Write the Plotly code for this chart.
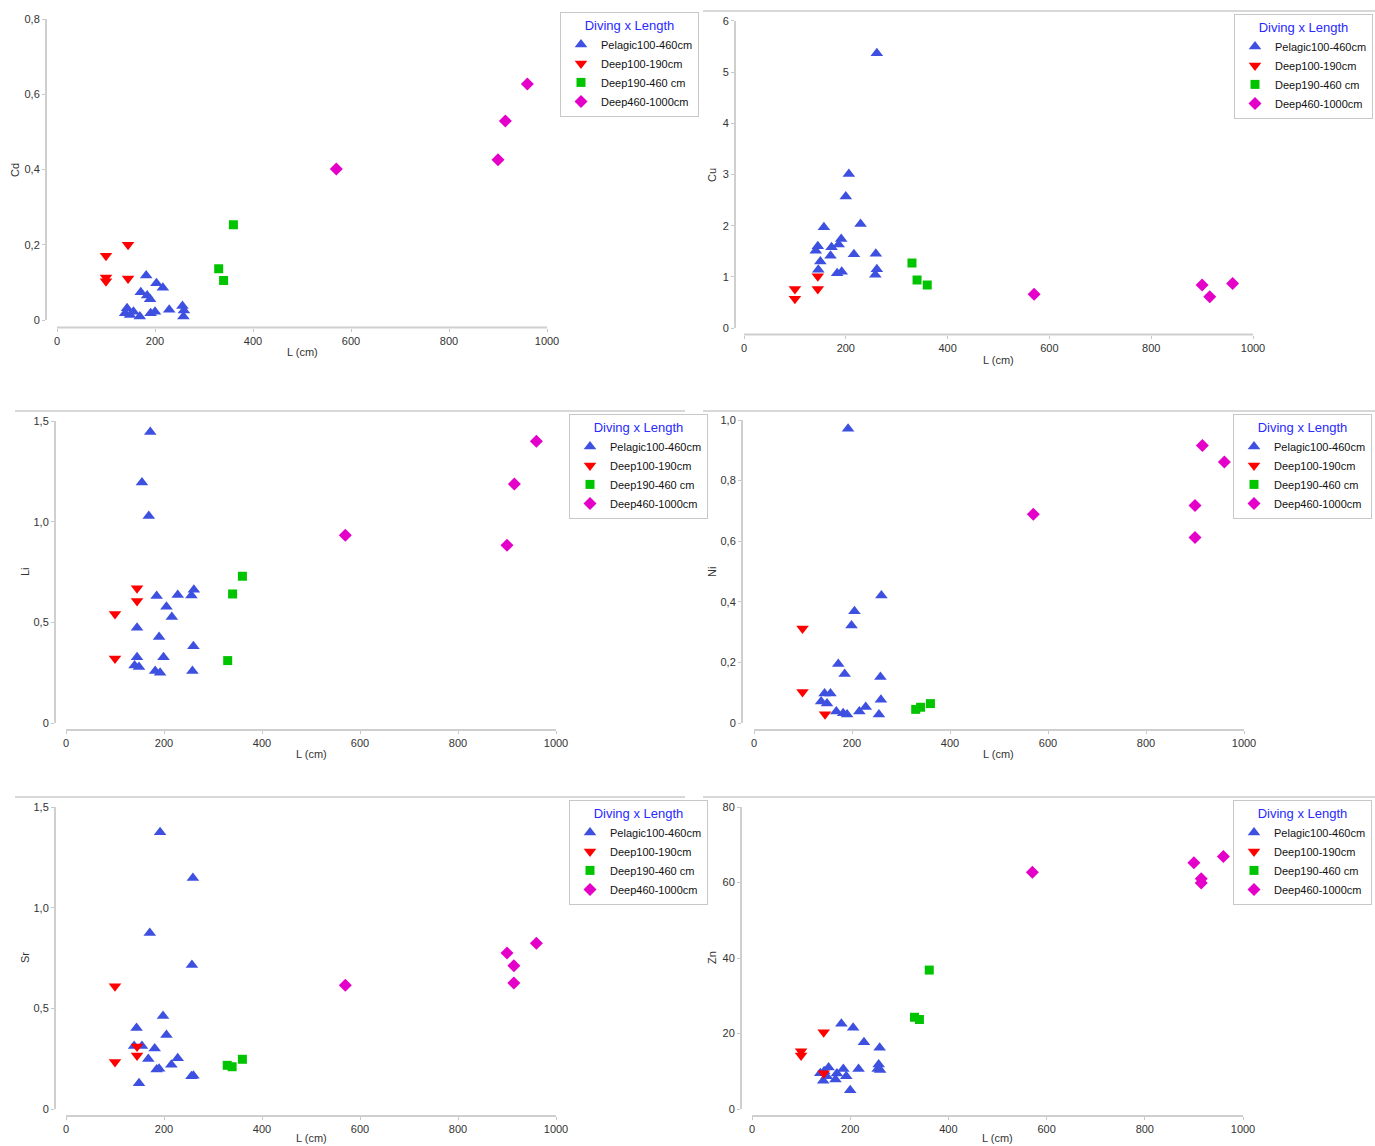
import plotly.graph_objects as go

# ---------------- data ----------------
GROUPS = ["Pelagic100-460cm", "Deep100-190cm", "Deep190-460 cm", "Deep460-1000cm"]

CD_PEL_L = [182, 203, 216, 171, 184, 190, 143, 139, 149, 156, 169, 191, 200, 229, 256, 259, 258]
CD_PEL = [0.118, 0.098, 0.086, 0.074, 0.065, 0.055, 0.031, 0.018, 0.013, 0.022, 0.009, 0.018, 0.022, 0.027, 0.037, 0.025, 0.009]
CD_D1_L = [100, 100, 100, 145, 145]
CD_D1 = [0.171, 0.113, 0.103, 0.200, 0.110]
CD_D2_L = [330, 340, 360]
CD_D2 = [0.136, 0.105, 0.253]
CD_D3_L = [570, 900, 915, 960]
CD_D3 = [0.401, 0.426, 0.529, 0.627]

CU_PEL_L = [261, 206, 200, 157, 229, 191, 186, 172, 170, 145, 141, 150, 216, 259, 146, 183, 192, 258, 261]
CU_PEL = [5.37, 3.01, 2.57, 1.97, 2.03, 1.74, 1.63, 1.58, 1.41, 1.60, 1.51, 1.30, 1.44, 1.45, 1.14, 1.07, 1.10, 1.04, 1.15]
CU_D1_L = [100, 100, 145, 145]
CU_D1 = [0.76, 0.57, 1.01, 0.76]
CU_D2_L = [330, 340, 360]
CU_D2 = [1.27, 0.94, 0.84]
CU_D3_L = [570, 900, 915, 960]
CU_D3 = [0.66, 0.84, 0.61, 0.87]

LI_PEL_L = [172, 155, 169, 185, 228, 256, 261, 205, 216, 145, 190, 260, 145, 199, 140, 149, 182, 192, 258]
LI_PEL = [1.445, 1.195, 1.028, 0.631, 0.636, 0.634, 0.662, 0.577, 0.526, 0.473, 0.427, 0.381, 0.327, 0.327, 0.286, 0.278, 0.258, 0.250, 0.258]
LI_D1_L = [145, 145, 100, 100]
LI_D1 = [0.669, 0.606, 0.542, 0.320]
LI_D2_L = [360, 340, 330]
LI_D2 = [0.729, 0.641, 0.310]
LI_D3_L = [570, 900, 915, 960]
LI_D3 = [0.933, 0.883, 1.187, 1.40]

NI_PEL_L = [192, 260, 205, 199, 172, 185, 258, 259, 144, 156, 137, 149, 168, 182, 190, 215, 228, 255]
NI_PEL = [0.971, 0.421, 0.369, 0.322, 0.195, 0.162, 0.152, 0.077, 0.097, 0.097, 0.071, 0.064, 0.038, 0.032, 0.028, 0.038, 0.053, 0.028]
NI_D1_L = [99, 99, 145]
NI_D1 = [0.312, 0.102, 0.029]
NI_D2_L = [330, 340, 360]
NI_D2 = [0.045, 0.052, 0.064]
NI_D3_L = [570, 900, 900, 915, 960]
NI_D3 = [0.689, 0.718, 0.612, 0.916, 0.861]

SR_PEL_L = [192, 259, 171, 257, 198, 144, 205, 139, 155, 181, 168, 228, 215, 185, 190, 256, 260, 149]
SR_PEL = [1.375, 1.147, 0.874, 0.715, 0.462, 0.403, 0.368, 0.313, 0.313, 0.300, 0.249, 0.252, 0.220, 0.196, 0.200, 0.163, 0.165, 0.128]
SR_D1_L = [100, 100, 145, 145]
SR_D1 = [0.610, 0.233, 0.311, 0.266]
SR_D2_L = [329, 339, 360]
SR_D2 = [0.217, 0.210, 0.247]
SR_D3_L = [570, 900, 914, 914, 960]
SR_D3 = [0.615, 0.775, 0.712, 0.626, 0.824]

ZN_PEL_L = [182, 206, 228, 260, 258, 256, 261, 217, 156, 186, 173, 139, 147, 152, 170, 192, 145, 200]
ZN_PEL = [22.6, 21.5, 17.7, 16.2, 11.8, 10.6, 10.3, 10.6, 11.0, 10.6, 9.4, 9.5, 10.0, 8.7, 7.8, 8.7, 7.5, 5.0]
ZN_D1_L = [100, 100, 146, 146]
ZN_D1 = [15.3, 14.2, 20.3, 9.5]
ZN_D2_L = [331, 341, 361]
ZN_D2 = [24.3, 23.7, 36.8]
ZN_D3_L = [571, 900, 915, 915, 960]
ZN_D3 = [62.7, 65.2, 61.0, 59.9, 66.9]

X_TICKS = [0, 200, 400, 600, 800, 1000]
CD_TICKS = [0, 0.2, 0.4, 0.6, 0.8]
CD_TICKTEXT = ["0", "0,2", "0,4", "0,6", "0,8"]
CU_TICKS = [0, 1, 2, 3, 4, 5, 6]
CU_TICKTEXT = ["0", "1", "2", "3", "4", "5", "6"]
LI_TICKS = [0, 0.5, 1.0, 1.5]
LI_TICKTEXT = ["0", "0,5", "1,0", "1,5"]
NI_TICKS = [0, 0.2, 0.4, 0.6, 0.8, 1.0]
NI_TICKTEXT = ["0", "0,2", "0,4", "0,6", "0,8", "1,0"]
SR_TICKS = [0, 0.5, 1.0, 1.5]
SR_TICKTEXT = ["0", "0,5", "1,0", "1,5"]
ZN_TICKS = [0, 20, 40, 60, 80]
ZN_TICKTEXT = ["0", "20", "40", "60", "80"]

# ---------------- style ----------------
W, H = 1375, 1146
FONT = "Liberation Sans, Arial, sans-serif"
STYLES = [
    dict(symbol="triangle-up", color="#3d50e0", size=11),
    dict(symbol="triangle-down", color="#ff0000", size=11),
    dict(symbol="square", color="#00c400", size=9),
    dict(symbol="diamond", color="#e400c8", size=10),
]

# pixel geometry per panel: left, right, bottom, top of the plotting area,
# pixel of L=0, px per L unit, pixel of value 0, px per value unit
panels = [
    dict(name="Cd", data=[(CD_PEL_L, CD_PEL), (CD_D1_L, CD_D1), (CD_D2_L, CD_D2), (CD_D3_L, CD_D3)],
         ticks=(CD_TICKS, CD_TICKTEXT), geo=(46, 560, 327.5, 14, 57, 0.49, 320, 376.25),
         xt=(302, 352), yt=(15, 170), leg=(560, 12, "left"), topline=None),
    dict(name="Cu", data=[(CU_PEL_L, CU_PEL), (CU_D1_L, CU_D1), (CU_D2_L, CU_D2), (CU_D3_L, CU_D3)],
         ticks=(CU_TICKS, CU_TICKTEXT), geo=(735, 1265, 334.5, 16, 744, 0.509, 328, 51.17),
         xt=(999, 360), yt=(712, 175), leg=(1373, 14, "right"), topline=(703, 1375, 11)),
    dict(name="Li", data=[(LI_PEL_L, LI_PEL), (LI_D1_L, LI_D1), (LI_D2_L, LI_D2), (LI_D3_L, LI_D3)],
         ticks=(LI_TICKS, LI_TICKTEXT), geo=(55, 568, 730, 415, 66, 0.49, 723, 201.3),
         xt=(311, 754), yt=(25, 572), leg=(569, 414, "left"), topline=(15, 685, 411)),
    dict(name="Ni", data=[(NI_PEL_L, NI_PEL), (NI_D1_L, NI_D1), (NI_D2_L, NI_D2), (NI_D3_L, NI_D3)],
         ticks=(NI_TICKS, NI_TICKTEXT), geo=(742, 1256, 730, 415, 754, 0.49, 723, 303),
         xt=(998, 754), yt=(712, 572), leg=(1372, 414, "right"), topline=(703, 1375, 411)),
    dict(name="Sr", data=[(SR_PEL_L, SR_PEL), (SR_D1_L, SR_D1), (SR_D2_L, SR_D2), (SR_D3_L, SR_D3)],
         ticks=(SR_TICKS, SR_TICKTEXT), geo=(55, 568, 1116, 801, 66, 0.49, 1109, 201.3),
         xt=(311, 1138), yt=(25, 958), leg=(569, 800, "left"), topline=(15, 685, 797)),
    dict(name="Zn", data=[(ZN_PEL_L, ZN_PEL), (ZN_D1_L, ZN_D1), (ZN_D2_L, ZN_D2), (ZN_D3_L, ZN_D3)],
         ticks=(ZN_TICKS, ZN_TICKTEXT), geo=(741, 1256, 1116, 801, 752, 0.491, 1109, 3.775),
         xt=(997, 1138), yt=(712, 958), leg=(1372, 800, "right"), topline=(703, 1375, 797)),
]

fig = go.Figure()
layout = dict(
    width=W, height=H, margin=dict(l=0, r=0, t=0, b=0, autoexpand=False),
    paper_bgcolor="white", plot_bgcolor="white",
    font=dict(family=FONT, size=11, color="#333"),
    showlegend=True, shapes=[], annotations=[],
)

for i, p in enumerate(panels):
    n = "" if i == 0 else str(i + 1)
    xa, ya = "x" + n, "y" + n
    lg = "legend" + n
    left, right, bottom, top, x0, xs, y0, ys = p["geo"]
    xr = [(left - x0) / xs, (right - x0) / xs]
    yr = [(y0 - bottom) / ys, (y0 - top) / ys]
    for g, ((lx, vy), st) in enumerate(zip(p["data"], STYLES)):
        fig.add_trace(go.Scatter(
            x=lx, y=vy, mode="markers", name=GROUPS[g], xaxis=xa, yaxis=ya, legend=lg,
            marker=dict(symbol=st["symbol"], color=st["color"], size=st["size"], line=dict(width=0)),
        ))
    tv, tt = p["ticks"]
    layout["xaxis" + n] = dict(
        domain=[left / W, right / W], range=xr, anchor=ya,
        tickvals=X_TICKS, ticktext=[str(v) for v in X_TICKS],
        showgrid=False, zeroline=False, showline=False,
        ticks="outside", ticklen=3, tickcolor="#c8c8c8",
        tickfont=dict(size=11, color="#333"),
    )
    layout["yaxis" + n] = dict(
        domain=[1 - bottom / H, 1 - top / H], range=yr, anchor=xa,
        tickvals=tv, ticktext=tt,
        showgrid=False, zeroline=False, showline=False,
        ticks="outside", ticklen=3, tickcolor="#c8c8c8",
        tickfont=dict(size=11, color="#333"),
    )
    # detached axis lines
    layout["shapes"].append(dict(type="line", xref=xa, yref=ya + " domain",
                                 x0=X_TICKS[0], x1=X_TICKS[-1], y0=0, y1=0,
                                 line=dict(color="#cfcfcf", width=2)))
    layout["shapes"].append(dict(type="line", xref=xa + " domain", yref=ya,
                                 x0=0, x1=0, y0=tv[0], y1=tv[-1],
                                 line=dict(color="#cfcfcf", width=2)))
    if p["topline"]:
        a, b, yy = p["topline"]
        layout["shapes"].append(dict(type="line", xref="paper", yref="paper",
                                     x0=a / W, x1=b / W, y0=1 - yy / H, y1=1 - yy / H,
                                     line=dict(color="#d8d8d8", width=2)))
    # axis titles
    layout["annotations"].append(dict(text="L (cm)", xref="paper", yref="paper",
                                      x=p["xt"][0] / W, y=1 - p["xt"][1] / H,
                                      xanchor="center", yanchor="middle", showarrow=False,
                                      font=dict(size=11, color="#333")))
    layout["annotations"].append(dict(text=p["name"], xref="paper", yref="paper",
                                      x=p["yt"][0] / W, y=1 - p["yt"][1] / H,
                                      xanchor="center", yanchor="middle", showarrow=False,
                                      textangle=-90, font=dict(size=11, color="#333")))
    lx_, ly_, anc = p["leg"]
    layout[lg] = dict(
        x=lx_ / W, y=1 - ly_ / H, xanchor=anc, yanchor="top",
        xref="paper", yref="paper",
        bgcolor="white", bordercolor="#c8c8c8", borderwidth=1,
        font=dict(size=11, color="#111"),
        title=dict(text="Diving x Length", font=dict(size=13, color="#2a2aff"), side="top center"),
        itemwidth=30, tracegroupgap=0,
    )

fig.update_layout(**layout)
fig.write_html(
    "out.html",
    config={"displayModeBar": False},
    post_script="document.body.style.margin='0';document.body.style.overflow='hidden';",
)
